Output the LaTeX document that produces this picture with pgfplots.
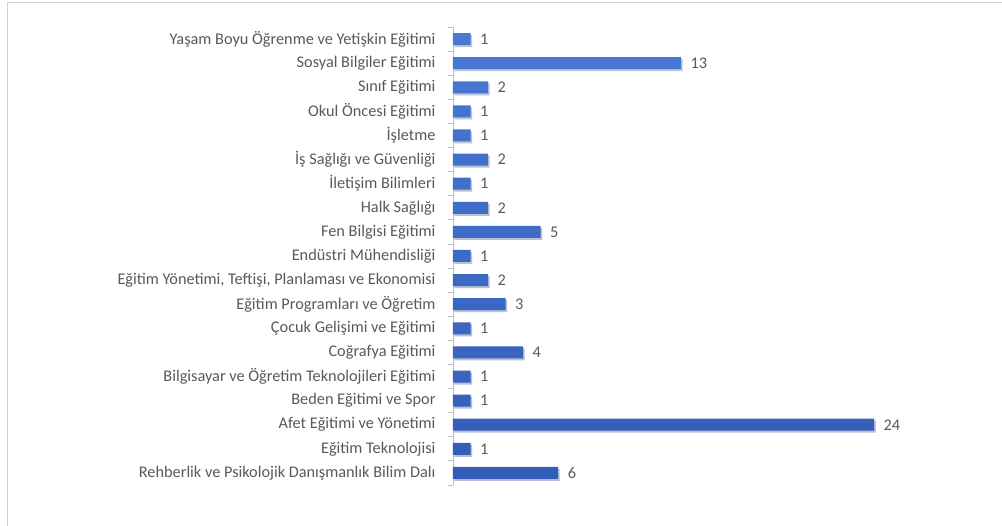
\documentclass[border=0pt]{standalone}
\usepackage{pgfplots}
\pgfplotsset{compat=1.18}
\usepackage{fontspec}
\setmainfont{Carlito}
\usetikzlibrary{shadows}
\definecolor{barblue}{RGB}{63,106,196}
\definecolor{bartop}{RGB}{74,120,210}
\definecolor{barbot}{RGB}{50,92,184}
\definecolor{txtgray}{RGB}{89,89,89}
\definecolor{axgray}{RGB}{191,191,191}
\begin{document}
\begin{tikzpicture}
\path[use as bounding box] (-453bp,-41bp) rectangle (549bp,485bp);
\draw[color=black!18, line width=1bp] (-445bp,-41bp) -- (-445bp,482bp) -- (549bp,482bp);
\begin{axis}[
  at={(0,0)}, anchor=south west,
  scale only axis,
  width=421bp, height=458bp,
  xmin=0, xmax=24,
  ymin=-0.5, ymax=18.5,
  xbar, bar width=12bp,
  axis x line=none,
  axis y line*=left,
  y axis line style={color=axgray, line width=0.8bp},
  ytick={0,...,18},
  major tick length=0pt,
  minor ytick={-0.5,0.5,...,18.5},
  minor tick length=5bp,
  tick align=outside,
  minor tick style={color=axgray, line width=0.8bp},
  /pgf/number format/assume math mode=true,
  yticklabel style={font=\fontsize{16.3bp}{18bp}\selectfont, text=txtgray, xshift=-14bp},
  yticklabels={
    Rehberlik ve Psikolojik Danışmanlık Bilim Dalı,
    Eğitim Teknolojisi,
    Afet Eğitimi ve Yönetimi,
    Beden Eğitimi ve Spor,
    Bilgisayar ve Öğretim Teknolojileri Eğitimi,
    Coğrafya Eğitimi,
    Çocuk Gelişimi ve Eğitimi,
    Eğitim Programları ve Öğretim,
    {Eğitim Yönetimi, Teftişi, Planlaması ve Ekonomisi},
    Endüstri Mühendisliği,
    Fen Bilgisi Eğitimi,
    Halk Sağlığı,
    İletişim Bilimleri,
    İş Sağlığı ve Güvenliği,
    İşletme,
    Okul Öncesi Eğitimi,
    Sınıf Eğitimi,
    Sosyal Bilgiler Eğitimi,
    Yaşam Boyu Öğrenme ve Yetişkin Eğitimi},
  nodes near coords,
  nodes near coords style={font=\fontsize{16.3bp}{18bp}\selectfont, text=txtgray, anchor=west, xshift=6bp},
  clip=false,
]
\addplot[draw=none, top color=bartop, bottom color=barbot,
  drop shadow={shadow xshift=1.5bp, shadow yshift=-2bp, opacity=0.25}]
  coordinates {
  (6,0) (1,1) (24,2) (1,3) (1,4) (4,5) (1,6) (3,7) (2,8) (1,9)
  (5,10) (2,11) (1,12) (2,13) (1,14) (1,15) (2,16) (13,17) (1,18)
};
\end{axis}
\end{tikzpicture}
\end{document}
